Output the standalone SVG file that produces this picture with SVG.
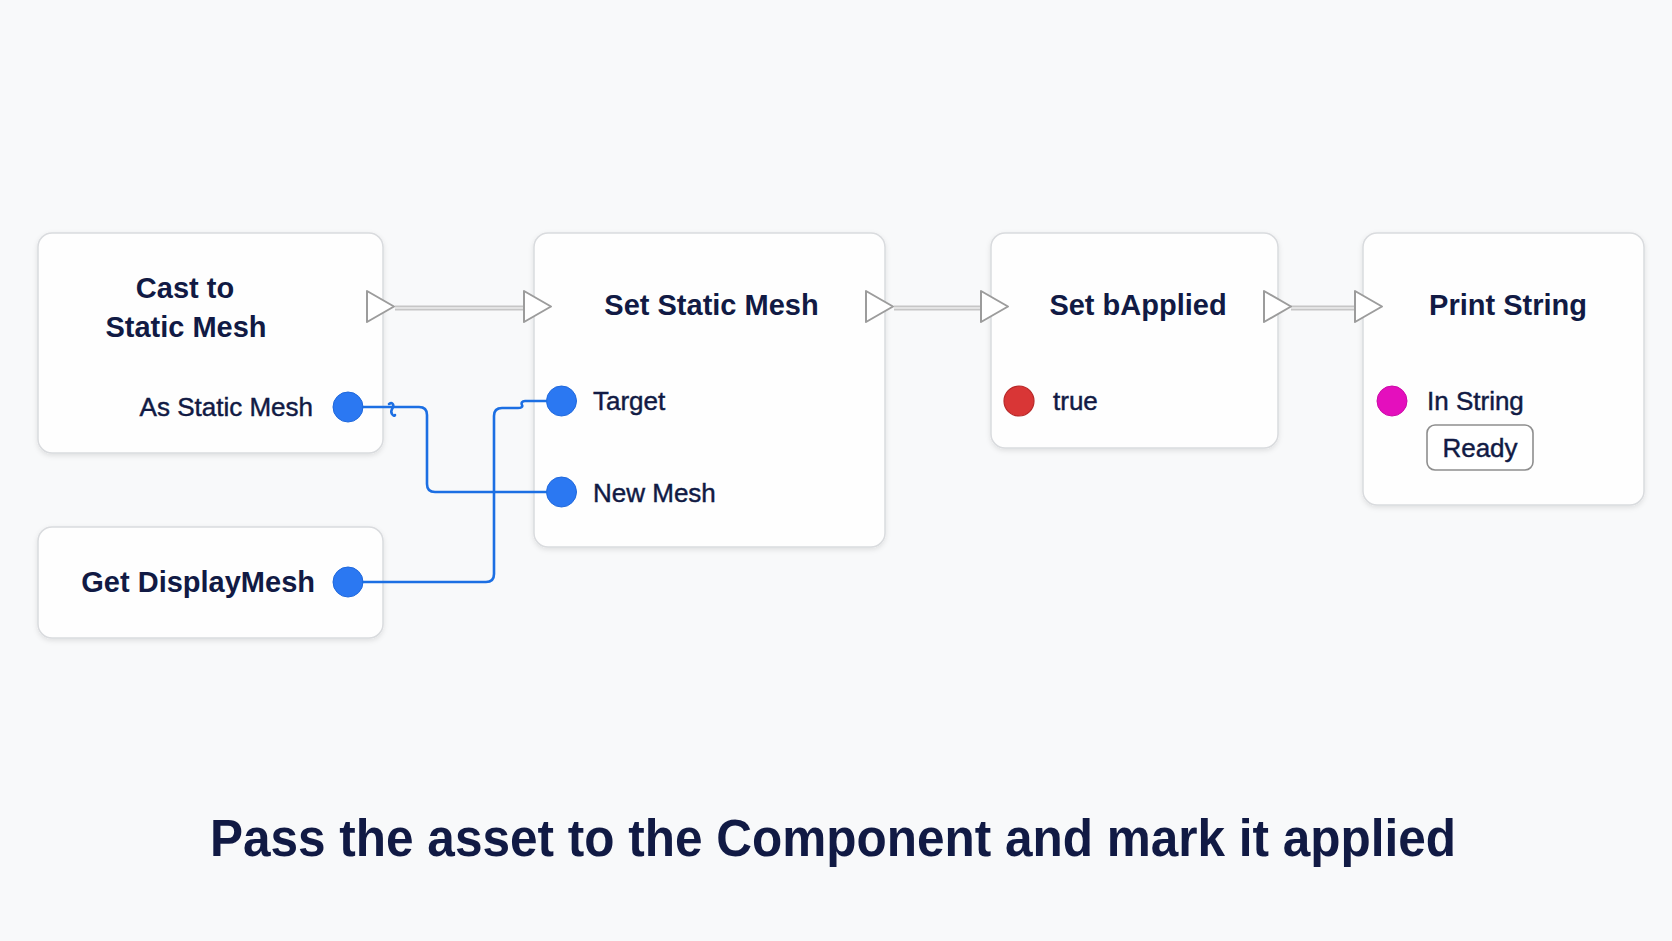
<svg xmlns="http://www.w3.org/2000/svg" width="1672" height="941" viewBox="0 0 1672 941">
<defs>
<filter id="sh" x="-10%" y="-10%" width="120%" height="130%">
<feDropShadow dx="0" dy="2" stdDeviation="2.5" flood-color="#000" flood-opacity="0.10"/>
</filter>
<style>
.node{fill:#fefefe;stroke:#d9dbde;stroke-width:1.5;filter:url(#sh)}
.title{font-family:"Liberation Sans",Arial,sans-serif;font-weight:bold;font-size:29px;fill:#111a44}
.lbl{font-family:"Liberation Sans",Arial,sans-serif;font-size:26px;fill:#111a44;stroke:#111a44;stroke-width:0.45}
.exec{fill:#ffffff;stroke:#9c9c9c;stroke-width:2;stroke-linejoin:round}
.eline{stroke:#c6c6c6;stroke-width:5;fill:none}
.eline2{stroke:#ececec;stroke-width:1.5;fill:none}
.wire{fill:none;stroke:#1c6fe3;stroke-width:2.6;stroke-linejoin:round;stroke-linecap:round}
.bpin{fill:#2b78f2;stroke:#1f68dc;stroke-width:1}
</style>
</defs>
<rect width="1672" height="941" fill="#f8f9fa"/>

<g id="node-cast">
<rect class="node" x="38" y="233" width="345" height="220" rx="14"/>
<text class="title" x="185" y="298" text-anchor="middle" font-size="28">Cast to</text>
<text class="title" x="186" y="337" text-anchor="middle" font-size="28">Static Mesh</text>
<text class="lbl" x="313" y="416" text-anchor="end">As Static Mesh</text>
<circle class="bpin" cx="348" cy="407" r="15"/>
</g>

<g id="node-get">
<rect class="node" x="38" y="527" width="345" height="111" rx="14"/>
<text class="title" x="315" y="592" text-anchor="end" font-size="28">Get DisplayMesh</text>
<circle class="bpin" cx="348" cy="582" r="15"/>
</g>

<g id="node-setmesh">
<rect class="node" x="534" y="233" width="351" height="314" rx="14"/>
<text class="title" x="711.5" y="315" text-anchor="middle">Set Static Mesh</text>
<text class="lbl" x="593" y="410">Target</text>
<text class="lbl" x="593" y="502">New Mesh</text>
<circle class="bpin" cx="561.5" cy="401" r="15"/>
<circle class="bpin" cx="561.5" cy="492" r="15"/>
</g>

<g id="node-setbool">
<rect class="node" x="991" y="233" width="287" height="215" rx="14"/>
<text class="title" x="1138" y="315" text-anchor="middle">Set bApplied</text>
<circle cx="1019" cy="401" r="15" fill="#d93636" stroke="#b82828" stroke-width="1.2"/>
<text class="lbl" x="1053" y="410">true</text>
</g>

<g id="node-print">
<rect class="node" x="1363" y="233" width="281" height="272" rx="14"/>
<text class="title" x="1508" y="315" text-anchor="middle">Print String</text>
<circle cx="1392" cy="401" r="15" fill="#e40fbd" stroke="#cc0aa8" stroke-width="1"/>
<text class="lbl" x="1427" y="410">In String</text>
<rect x="1427" y="425" width="106" height="45" rx="8" fill="#ffffff" stroke="#8e8e8e" stroke-width="1.6"/>
<text class="lbl" x="1480" y="457" text-anchor="middle">Ready</text>
</g>

<g id="connectors">
<line class="eline" x1="395" y1="308" x2="524" y2="308"/>
<line class="eline2" x1="395" y1="308" x2="524" y2="308"/>
<line class="eline" x1="894" y1="308" x2="981" y2="308"/>
<line class="eline2" x1="894" y1="308" x2="981" y2="308"/>
<line class="eline" x1="1291" y1="308" x2="1355" y2="308"/>
<line class="eline2" x1="1291" y1="308" x2="1355" y2="308"/>
<path class="exec" d="M367 291 L394 306.5 L367 322 Z"/>
<path class="exec" d="M524 291 L551 306.5 L524 322 Z"/>
<path class="exec" d="M866 291 L893 306.5 L866 322 Z"/>
<path class="exec" d="M981 291 L1008 306.5 L981 322 Z"/>
<path class="exec" d="M1264 291 L1291 306.5 L1264 322 Z"/>
<path class="exec" d="M1355 291 L1382 306.5 L1355 322 Z"/>
<path class="wire" d="M363 407 L419 407 Q427 407 427 415 L427 484 Q427 492 435 492 L546 492"/>
<path class="wire" d="M389 404 c3 -2 5 0 4 3 c-1 3 -3 4 -1 7 c1 2 3 2 3 1"/>
<path class="wire" d="M363 582 L486 582 Q494 582 494 574 L494 416 Q494 408 502 408 L518 408 c3 0 5 -1 4 -3 c-1 -2 0 -4 3 -4 L546 401"/>
</g>

<text x="833" y="856" text-anchor="middle" font-family="'Liberation Sans',Arial,sans-serif" font-weight="bold" font-size="51" fill="#111a44" textLength="1246" lengthAdjust="spacingAndGlyphs">Pass the asset to the Component and mark it applied</text>
</svg>
